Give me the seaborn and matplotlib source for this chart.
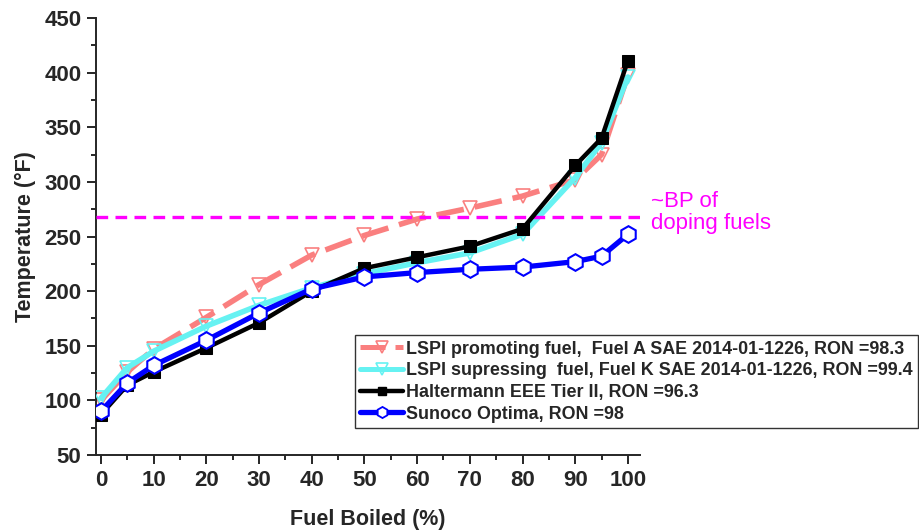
import numpy as np
import pandas as pd
import matplotlib
matplotlib.use("Agg")
import matplotlib.pyplot as plt
import seaborn as sns
from matplotlib.ticker import MultipleLocator
from matplotlib.lines import Line2D

# data
fuel_boiled = [0, 5, 10, 20, 30, 40, 50, 60, 70, 80, 90, 95, 100]
lspi_promoting = [100, 126, 147, 176, 206, 233, 251, 266, 276, 287, 302, 325, 398]
lspi_suppressing = [102, 130, 145, 168, 187, 203, 216, 226, 235, 252, 304, 336, 396]
haltermann = [87, 114, 126, 148, 171, 200, 221, 231, 241, 257, 315, 340, 411]
sunoco = [90, 116, 132, 155, 180, 202, 213, 217, 220, 222, 227, 232, 252]
bp_doping = 268

labels = [
    "LSPI promoting fuel,  Fuel A SAE 2014-01-1226, RON =98.3",
    "LSPI supressing  fuel, Fuel K SAE 2014-01-1226, RON =99.4",
    "Haltermann EEE Tier II, RON =96.3",
    "Sunoco Optima, RON =98",
]

sns.set_style("ticks")
plt.rcParams["font.family"] = ["Liberation Sans", "DejaVu Sans"]

fig = plt.figure(figsize=(9.2, 5.31), dpi=100)
ax = fig.add_axes([0.1043, 0.1431, 0.5914, 0.823])

salmon = "#FA7F7F"
cyan = "#66F2F2"
black = "#000000"
blue = "#0000FF"

sns.lineplot(x=fuel_boiled, y=lspi_promoting, ax=ax, color=salmon, lw=4,
             linestyle=(0, (5, 2)), marker="v", ms=10, mfc="none",
             mec=salmon, mew=1.2, zorder=2)
sns.lineplot(x=fuel_boiled, y=lspi_suppressing, ax=ax, color=cyan, lw=4,
             marker="v", ms=10, mfc="none", mec=cyan, mew=1.2, zorder=3)
ax.axhline(bp_doping, color="#FF00FF", lw=2.4, linestyle=(0, (3.5, 2.2)), zorder=4)
sns.lineplot(x=fuel_boiled, y=haltermann, ax=ax, color=black, lw=3.2,
             marker="s", ms=9, mfc=black, mec=black, zorder=5)
sns.lineplot(x=fuel_boiled, y=sunoco, ax=ax, color=blue, lw=3.8,
             marker="h", ms=12, mfc="white", mec=blue, mew=1.5, zorder=6)

ax.set_xlim(-0.95, 102.3)
ax.set_ylim(50, 450)
ax.xaxis.set_major_locator(MultipleLocator(10))
ax.xaxis.set_minor_locator(MultipleLocator(5))
ax.yaxis.set_major_locator(MultipleLocator(50))
ax.yaxis.set_minor_locator(MultipleLocator(25))
ax.tick_params(which="major", direction="out", length=6.5, width=1.4,
               labelsize=16, pad=4)
ax.tick_params(which="minor", direction="out", length=3.5, width=1.4)
for lab in ax.get_xticklabels() + ax.get_yticklabels():
    lab.set_fontweight("bold")
sns.despine(ax=ax)
for s in ["left", "bottom"]:
    ax.spines[s].set_linewidth(1.4)

ax.set_xlabel("Fuel Boiled (%)", fontsize=15.5, fontweight="bold", labelpad=13)
ax.set_ylabel("Temperature (°F)", fontsize=15.5, fontweight="bold", labelpad=6)

ax.text(104.4, 292, "~BP of\ndoping fuels", color="#FF00FF", fontsize=16,
        va="top", ha="left", linespacing=1.1, clip_on=False)

handles = [
    Line2D([], [], color=salmon, lw=3.6, linestyle=(0, (5, 2)), marker="v",
           ms=8, mfc="none", mec=salmon, mew=1.2),
    Line2D([], [], color=cyan, lw=3.6, marker="v", ms=8, mfc="none",
           mec=cyan, mew=1.2),
    Line2D([], [], color=black, lw=3.2, marker="s", ms=6),
    Line2D([], [], color=blue, lw=3.8, marker="h", ms=8, mfc="white",
           mec=blue, mew=1.3),
]
leg = fig.legend(handles, labels, loc="lower right",
                 bbox_to_anchor=(0.998, 0.194), bbox_transform=fig.transFigure,
                 prop={"weight": "bold", "size": 12.9}, frameon=True,
                 fancybox=False, framealpha=1, edgecolor="#333333",
                 handlelength=2.4, handletextpad=0.15, labelspacing=0.26,
                 borderpad=0.3, borderaxespad=0)
leg.get_frame().set_linewidth(1.0)

fig.savefig("out.png", dpi=100)
